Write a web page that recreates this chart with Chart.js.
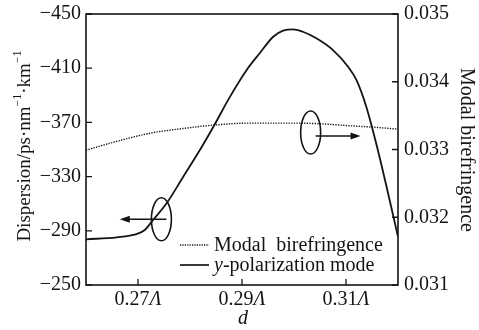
<!DOCTYPE html>
<html>
<head>
<meta charset="utf-8">
<script src="https://cdn.jsdelivr.net/npm/chart.js@4/dist/chart.umd.min.js"></script>
<style>
  html, body { margin: 0; padding: 0; background: #fff; }
  #wrap { width: 479px; height: 330px; }
</style>
</head>
<body>
<div id="wrap"><canvas id="c"></canvas></div>
<script>
// d values (in units of Λ) and the y-polarization dispersion curve
const dVals = [0.2600, 0.2659, 0.2697, 0.2713, 0.2729, 0.2755, 0.2787, 0.2819, 0.2845, 0.2877,
               0.2909, 0.2934, 0.2960, 0.2979, 0.2998, 0.3017, 0.3043, 0.3075, 0.3104, 0.3120,
               0.3139, 0.3158, 0.3178, 0.3200];
const dispersion = [-283.7, -285.2, -287.6, -290.6, -298.0, -310.3, -329.9, -349.6, -366.8, -389.0,
                    -408.7, -421.0, -433.2, -437.7, -438.7, -436.9, -432.1, -423.4, -411.1, -401.3,
                    -381.6, -354.6, -322.5, -285.6];

// modal birefringence (right axis)
const birefD = [0.2600, 0.2659, 0.2723, 0.2787, 0.2845, 0.2916, 0.2993, 0.3050, 0.3108, 0.3152, 0.3200];
const birefringence = [0.03299, 0.03312, 0.03324, 0.03331, 0.03336, 0.03339, 0.03339, 0.03338,
                       0.03335, 0.03333, 0.03330];

const xTicks = [0.27, 0.29, 0.31];
const leftTicks = [-450, -410, -370, -330, -290, -250];
const rightTicks = [0.035, 0.034, 0.033, 0.032, 0.031];

// ellipse + arrow markers, anchored in data units
const markers = [
  { axis: 'y', cx: 0.2745, cy: -298.5, tipX: 0.2665, dir: -1 },
  { axis: 'y1', cx: 0.3032, cy: 0.03325, tipX: 0.3128, dir: 1, ay: 0.03320 }
];

const FONT = '"Liberation Serif", "Times New Roman", serif';
const INK = '#141414';

const decor = {
  id: 'decor',
  afterDraw(chart) {
    const ctx = chart.ctx;
    const a = chart.chartArea;
    const xs = chart.scales.x, yl = chart.scales.y, yr = chart.scales.y1;
    ctx.save();
    ctx.strokeStyle = INK;
    ctx.fillStyle = INK;

    // frame
    ctx.lineWidth = 1.6;
    ctx.strokeRect(a.left, a.top, a.right - a.left, a.bottom - a.top);

    // inward tick marks
    ctx.lineWidth = 1.3;
    ctx.beginPath();
    xTicks.forEach(v => {
      const px = xs.getPixelForValue(v);
      ctx.moveTo(px, a.bottom); ctx.lineTo(px, a.bottom - 6);
    });
    leftTicks.forEach(v => {
      const py = yl.getPixelForValue(v);
      ctx.moveTo(a.left, py); ctx.lineTo(a.left + 6, py);
    });
    rightTicks.forEach(v => {
      const py = yr.getPixelForValue(v);
      ctx.moveTo(a.right, py); ctx.lineTo(a.right - 6, py);
    });
    ctx.stroke();

    // x tick labels with italic Λ
    ctx.textBaseline = 'middle';
    xTicks.forEach(v => {
      const px = xs.getPixelForValue(v);
      const num = v.toFixed(2);
      ctx.font = '20px ' + FONT;
      const w1 = ctx.measureText(num).width;
      ctx.font = 'italic 20px ' + FONT;
      const w2 = ctx.measureText('Λ').width;
      const x0 = px - (w1 + w2) / 2;
      ctx.textAlign = 'left';
      ctx.font = '20px ' + FONT;
      ctx.fillText(num, x0, a.bottom + 15);
      ctx.font = 'italic 20px ' + FONT;
      ctx.fillText('Λ', x0 + w1, a.bottom + 15);
    });

    // x title
    ctx.textAlign = 'center';
    ctx.font = 'italic 20px ' + FONT;
    ctx.fillText('d', (a.left + a.right) / 2 + 1, a.bottom + 34);

    // left title with superscripts
    const parts = [
      ['Dispersion/ps·nm', false], ['−1', true], ['·km', false], ['−1', true]
    ];
    ctx.save();
    ctx.translate(25, 146);
    ctx.rotate(-Math.PI / 2);
    let total = 0;
    parts.forEach(p => {
      ctx.font = (p[1] ? '12px ' : '19px ') + FONT;
      total += ctx.measureText(p[0]).width;
    });
    let cx = -total / 2;
    ctx.textAlign = 'left';
    parts.forEach(p => {
      ctx.font = (p[1] ? '12px ' : '19px ') + FONT;
      ctx.fillText(p[0], cx, p[1] ? -7 : 0);
      cx += ctx.measureText(p[0]).width;
    });
    ctx.restore();

    // right title
    ctx.save();
    ctx.translate(466, 150);
    ctx.rotate(Math.PI / 2);
    ctx.textAlign = 'center';
    ctx.font = '20px ' + FONT;
    ctx.fillText('Modal birefringence', 0, 0);
    ctx.restore();

    // legend
    const lx = 180, ly1 = 245, ly2 = 265;
    ctx.lineWidth = 1.3;
    ctx.setLineDash([1.2, 1.2]);
    ctx.beginPath(); ctx.moveTo(lx, ly1); ctx.lineTo(lx + 29, ly1); ctx.stroke();
    ctx.setLineDash([]);
    ctx.lineWidth = 1.7;
    ctx.beginPath(); ctx.moveTo(lx, ly2); ctx.lineTo(lx + 29, ly2); ctx.stroke();
    ctx.textAlign = 'left';
    ctx.font = '20px ' + FONT;
    ctx.fillText('Modal  birefringence', lx + 34, ly1 + 1);
    ctx.font = 'italic 20px ' + FONT;
    ctx.fillText('y', lx + 34, ly2 + 1);
    const wy = ctx.measureText('y').width;
    ctx.font = '20px ' + FONT;
    ctx.fillText('-polarization mode', lx + 34 + wy, ly2 + 1);

    // ellipses and arrows
    ctx.lineWidth = 1.6;
    markers.forEach(m => {
      const ys = chart.scales[m.axis];
      const ex = xs.getPixelForValue(m.cx), ey = ys.getPixelForValue(m.cy);
      ctx.beginPath();
      ctx.ellipse(ex, ey, 10, 21.5, 0, 0, Math.PI * 2);
      ctx.stroke();
      const ay = m.ay !== undefined ? ys.getPixelForValue(m.ay) : ey;
      const tx = xs.getPixelForValue(m.tipX);
      const sx = ex + 5;
      ctx.beginPath();
      ctx.moveTo(sx, ay); ctx.lineTo(tx - m.dir * 8, ay);
      ctx.stroke();
      ctx.beginPath();
      ctx.moveTo(tx, ay);
      ctx.lineTo(tx - m.dir * 10, ay - 3.5);
      ctx.lineTo(tx - m.dir * 10, ay + 3.5);
      ctx.closePath();
      ctx.fill();
    });

    ctx.restore();
  }
};

new Chart(document.getElementById('c'), {
  type: 'line',
  data: {
    datasets: [
      {
        label: 'Modal birefringence',
        data: birefD.map((d, i) => ({ x: d, y: birefringence[i] })),
        yAxisID: 'y1',
        borderColor: INK,
        borderWidth: 1.4,
        borderDash: [1.3, 1.3],
        pointRadius: 0,
        cubicInterpolationMode: 'monotone',
        fill: false
      },
      {
        label: 'y-polarization mode',
        data: dVals.map((d, i) => ({ x: d, y: dispersion[i] })),
        yAxisID: 'y',
        borderColor: INK,
        borderWidth: 1.8,
        pointRadius: 0,
        cubicInterpolationMode: 'monotone',
        fill: false
      }
    ]
  },
  options: {
    responsive: true,
    maintainAspectRatio: false,
    animation: false,
    layout: { padding: { top: 14, left: 0, right: 0, bottom: 0 } },
    plugins: { legend: { display: false }, tooltip: { enabled: false } },
    scales: {
      x: {
        type: 'linear',
        min: 0.26, max: 0.32,
        grid: { display: false, drawTicks: false },
        border: { display: false },
        ticks: { display: false },
        afterBuildTicks: s => { s.ticks = xTicks.map(v => ({ value: v })); },
        afterFit: s => { s.height = 45; }
      },
      y: {
        position: 'left',
        min: -450, max: -250,
        reverse: true,
        grid: { display: false, drawTicks: false },
        border: { display: false },
        afterBuildTicks: s => { s.ticks = leftTicks.map(v => ({ value: v })); },
        ticks: {
          padding: 5,
          color: INK,
          font: { family: FONT, size: 20, lineHeight: 1 },
          callback: v => '−' + Math.abs(v)
        },
        afterFit: s => { s.width = 86; s.paddingTop = 0; s.paddingBottom = 0; }
      },
      y1: {
        position: 'right',
        min: 0.031, max: 0.035,
        grid: { display: false, drawTicks: false },
        border: { display: false },
        afterBuildTicks: s => { s.ticks = rightTicks.map(v => ({ value: v })); },
        ticks: {
          padding: 6,
          color: INK,
          font: { family: FONT, size: 20, lineHeight: 1 },
          callback: v => v.toFixed(3)
        },
        afterFit: s => { s.width = 81; s.paddingTop = 0; s.paddingBottom = 0; }
      }
    }
  },
  plugins: [decor]
});
</script>
</body>
</html>
